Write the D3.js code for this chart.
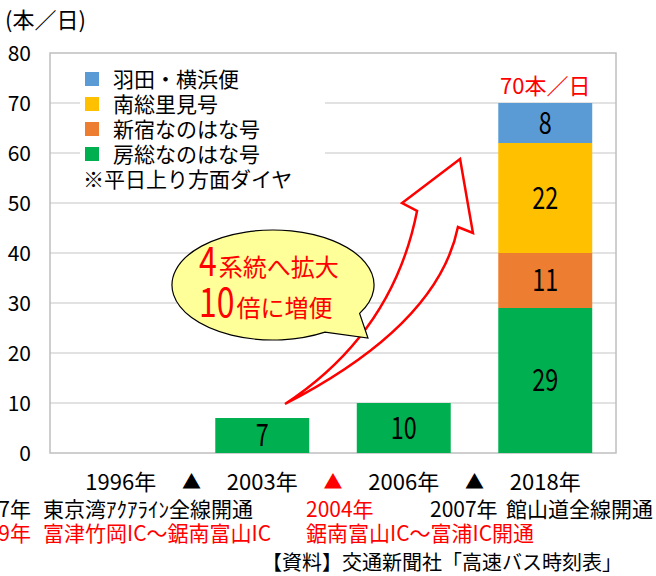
<!DOCTYPE html>
<html>
<head>
<meta charset="utf-8">
<script src="https://cdn.jsdelivr.net/npm/d3@7"></script>
<style>
  html, body { margin: 0; padding: 0; background: #fff; overflow: hidden; }
  text { font-family: "Noto Sans CJK JP", sans-serif; }
</style>
</head>
<body>
<div id="chart"></div>
<script>
// categories (x axis) and the stacked series, bottom to top
const categories = ['1996年', '2003年', '2006年', '2018年'];
const seriesNames = ['房総なのはな号', '新宿なのはな号', '南総里見号', '羽田・横浜便'];
const seriesColors = ['#00b050', '#ed7d31', '#ffc000', '#5b9bd5'];
const bousou = [0, 7, 10, 29];
const shinjuku = [0, 0, 0, 11];
const nansou = [0, 0, 0, 22];
const haneda = [0, 0, 0, 8];
const yTicks = [0, 10, 20, 30, 40, 50, 60, 70, 80];
const markerColors = ['#000', '#ff0000', '#000'];

// event notes under the axis
const row1 = [
  {year: '1997年', text: '東京湾ｱｸｱﾗｲﾝ全線開通', color: '#000'},
  {year: '2004年', text: '', color: '#ff0000'},
  {year: '2007年', text: '館山道全線開通', color: '#000'},
];
const row2 = [
  {year: '1999年', text: '富津竹岡IC～鋸南富山IC', color: '#ff0000'},
  {year: '', text: '鋸南富山IC～富浦IC開通', color: '#ff0000'},
];
const sourceNote = '【資料】交通新聞社「高速バス時刻表」';
const unitLabel = '(本／日)';
const totalSuffix = '本／日';
const bubbleLines = [['4', '系統へ拡大'], ['10', '倍に増便']];

const width = 656;
const height = 576;
const margin = {left: 50, right: 40, top: 53, bottom: 123};

const svg = d3.select('#chart').append('svg')
  .attr('width', width)
  .attr('height', height);

const x = d3.scaleBand()
  .domain(categories)
  .range([margin.left, width - margin.right])
  .paddingInner(0.336)
  .paddingOuter(0.168);

const y = d3.scaleLinear()
  .domain([0, 80])
  .range([height - margin.bottom, margin.top]);

// continuous x in "category index" units, for the annotations
const xc = d3.scaleLinear()
  .domain([-0.5, categories.length - 0.5])
  .range([margin.left, width - margin.right]);

// gridlines
svg.append('g')
  .selectAll('line')
  .data(yTicks.filter(d => d > 0 && d < 80))
  .join('line')
  .attr('x1', margin.left).attr('x2', width - margin.right)
  .attr('y1', d => y(d)).attr('y2', d => y(d))
  .attr('stroke', '#d9d9d9')
  .attr('stroke-width', 1.5);

// plot border
svg.append('rect')
  .attr('x', margin.left).attr('y', margin.top)
  .attr('width', width - margin.left - margin.right)
  .attr('height', height - margin.top - margin.bottom)
  .attr('fill', 'none')
  .attr('stroke', '#bfbfbf')
  .attr('stroke-width', 1.5);

// y tick labels
svg.append('g')
  .selectAll('text')
  .data(yTicks)
  .join('text')
  .attr('x', 31)
  .attr('y', d => y(d))
  .attr('dy', '0.36em')
  .attr('text-anchor', 'end')
  .attr('font-size', 21)
  .text(d => d);

svg.append('text')
  .attr('x', 5).attr('y', 28)
  .attr('font-size', 22)
  .text(unitLabel);

// stacked bars
const rows = categories.map((c, i) => ({
  cat: c,
  [seriesNames[0]]: bousou[i],
  [seriesNames[1]]: shinjuku[i],
  [seriesNames[2]]: nansou[i],
  [seriesNames[3]]: haneda[i],
}));
const stacked = d3.stack().keys(seriesNames)(rows);

const layers = svg.append('g')
  .selectAll('g')
  .data(stacked)
  .join('g')
  .attr('fill', (d, i) => seriesColors[i]);

layers.selectAll('rect')
  .data(d => d.filter(s => s[1] - s[0] > 0))
  .join('rect')
  .attr('x', d => x(d.data.cat))
  .attr('y', d => y(d[1]))
  .attr('width', x.bandwidth())
  .attr('height', d => y(d[0]) - y(d[1]));

// value labels, squeezed horizontally like the condensed digits
layers.selectAll('text')
  .data(d => d.filter(s => s[1] - s[0] > 0))
  .join('text')
  .attr('transform', d =>
    `translate(${x(d.data.cat) + x.bandwidth() / 2},${y((d[0] + d[1]) / 2)}) scale(0.78,1)`)
  .attr('dy', '0.36em')
  .attr('text-anchor', 'middle')
  .attr('font-size', 30)
  .attr('fill', '#000')
  .text(d => d[1] - d[0]);

// total above the last bar
const last = rows[rows.length - 1];
const total = d3.sum(seriesNames, k => last[k]);
svg.append('text')
  .attr('x', x(last.cat) + x.bandwidth() / 2)
  .attr('y', y(total) - 9)
  .attr('text-anchor', 'middle')
  .attr('font-size', 22)
  .attr('fill', '#ff0000')
  .text(total + totalSuffix);

// legend
const legend = svg.append('g');
legend.append('rect')
  .attr('x', 80).attr('y', 60)
  .attr('width', 245).attr('height', 134)
  .attr('fill', '#fff');
const legendItems = seriesNames.map((n, i) => ({name: n, color: seriesColors[i]})).reverse();
legend.selectAll('rect.key')
  .data(legendItems)
  .join('rect')
  .attr('class', 'key')
  .attr('x', 85)
  .attr('y', (d, i) => 72 + i * 25)
  .attr('width', 14).attr('height', 14)
  .attr('fill', d => d.color);
legend.selectAll('text')
  .data(legendItems)
  .join('text')
  .attr('x', 113)
  .attr('y', (d, i) => 79 + i * 25)
  .attr('dy', '0.36em')
  .attr('font-size', 21)
  .text(d => d.name);
legend.append('text')
  .attr('x', 83)
  .attr('y', 79 + 4 * 25)
  .attr('dy', '0.36em')
  .attr('font-size', 21)
  .text('※平日上り方面ダイヤ');

// curved arrow (in category / value units)
const tail = [1.161, 9.8];
const leftCtrl = [1.924, 24];
const leftNotch = [2.094, 48.4];
const leftBarb = [1.988, 50];
const tip = [2.398, 58.8];
const rightBarb = [2.489, 44];
const rightNotch = [2.383, 45.2];
const rightCtrl = [2.242, 25.6];
const P = p => [xc(p[0]), y(p[1])];
const ap = d3.path();
ap.moveTo(...P(tail));
ap.quadraticCurveTo(...P(leftCtrl), ...P(leftNotch));
ap.lineTo(...P(leftBarb));
ap.lineTo(...P(tip));
ap.lineTo(...P(rightBarb));
ap.lineTo(...P(rightNotch));
ap.quadraticCurveTo(...P(rightCtrl), ...P(tail));
ap.closePath();
svg.append('path')
  .attr('d', ap.toString())
  .attr('fill', 'none')
  .attr('stroke', '#ff0000')
  .attr('stroke-width', 2.5)
  .attr('stroke-linejoin', 'miter');

// speech bubble
const bc = P([1.076, 33.6]);
const brx = xc(0.714) - xc(0);
const bry = y(0) - y(11);
const bTip = P([1.747, 23]);
const t1 = 31 * Math.PI / 180;
const t2 = 59 * Math.PI / 180;
const bA = [bc[0] + brx * Math.cos(t1), bc[1] + bry * Math.sin(t1)];
const bB = [bc[0] + brx * Math.cos(t2), bc[1] + bry * Math.sin(t2)];
svg.append('path')
  .attr('d', `M${bA}A${brx},${bry} 0 1 0 ${bB}L${bTip}Z`)
  .attr('fill', '#ffff99')
  .attr('stroke', '#000')
  .attr('stroke-width', 1.2);

const bt = svg.append('g').attr('fill', '#ff0000');
const squeeze = 0.8;
bubbleLines.forEach((ln, i) => {
  const by = 276 + i * 41;
  const num = bt.append('text')
    .attr('transform', `translate(199,${by}) scale(${squeeze},1)`)
    .attr('font-size', 40)
    .text(ln[0]);
  const w = num.node().getComputedTextLength() * squeeze;
  bt.append('text')
    .attr('x', 199 + w + 2)
    .attr('y', by)
    .attr('font-size', 24)
    .text(ln[1]);
});

// category labels and markers
const cy = 490;
svg.append('g')
  .selectAll('text')
  .data(categories)
  .join('text')
  .attr('x', d => x(d) + x.bandwidth() / 2)
  .attr('y', cy)
  .attr('text-anchor', 'middle')
  .attr('font-size', 22)
  .text(d => d);
svg.append('g')
  .selectAll('text')
  .data(markerColors)
  .join('text')
  .attr('x', (d, i) => (x(categories[i]) + x(categories[i + 1]) + x.bandwidth()) / 2)
  .attr('y', cy - 1)
  .attr('text-anchor', 'middle')
  .attr('font-size', 19)
  .attr('fill', d => d)
  .text('▲');

// notes rows
const fs = 21;
function noteRow(items, yy, xs) {
  items.forEach((it, i) => {
    if (it.year) {
      svg.append('text')
        .attr('x', xs[i].year).attr('y', yy)
        .attr('text-anchor', xs[i].anchor)
        .attr('font-size', fs)
        .attr('fill', it.color)
        .text(it.year);
    }
    if (it.text) {
      svg.append('text')
        .attr('x', xs[i].text).attr('y', yy)
        .attr('font-size', fs)
        .attr('fill', it.color)
        .text(it.text);
    }
  });
}
noteRow(row1, 517, [
  {year: 31, text: 43, anchor: 'end'},
  {year: 306, text: 0, anchor: 'start'},
  {year: 430, text: 506, anchor: 'start'},
]);
noteRow(row2, 541, [
  {year: 31, text: 43, anchor: 'end'},
  {year: 0, text: 306, anchor: 'start'},
]);

svg.append('text')
  .attr('x', 262).attr('y', 570)
  .attr('font-size', 20)
  .text(sourceNote);
</script>
</body>
</html>
